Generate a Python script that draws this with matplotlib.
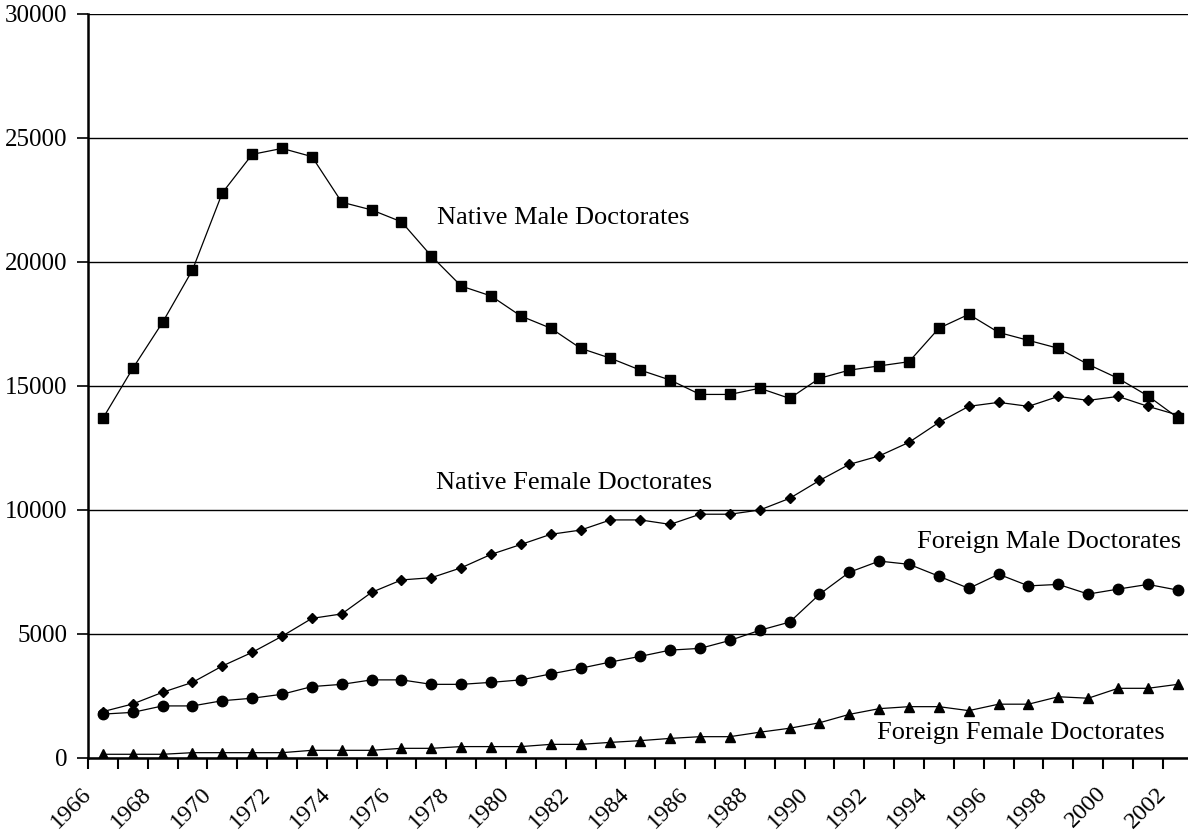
import numpy as np
import matplotlib
matplotlib.use('Agg')
import matplotlib.pyplot as plt
import matplotlib.transforms as mtransforms

plt.rcParams['font.family'] = ['Liberation Serif', 'DejaVu Serif']

years = list(range(1966, 2003))

native_male = [13700, 15710, 17570, 19680, 22790, 24340, 24580, 24250, 22410, 22100,
               21620, 20240, 19030, 18630, 17820, 17330, 16520, 16120, 15640, 15240,
               14660, 14660, 14910, 14500, 15310, 15640, 15810, 15980, 17330, 17890,
               17160, 16840, 16520, 15870, 15310, 14600, 13720]
native_female = [1870, 2180, 2650, 3050, 3710, 4260, 4910, 5630, 5810, 6680,
                 7180, 7270, 7670, 8210, 8610, 9020, 9190, 9600, 9600, 9420,
                 9830, 9830, 10000, 10470, 11190, 11840, 12180, 12730, 13530, 14180,
                 14340, 14180, 14580, 14420, 14580, 14180, 13830]
foreign_male = [1770, 1840, 2100, 2100, 2310, 2410, 2570, 2880, 2970, 3150,
                3150, 2970, 2970, 3050, 3150, 3390, 3620, 3870, 4100, 4350,
                4420, 4740, 5150, 5480, 6600, 7490, 7940, 7810, 7330, 6840,
                7410, 6940, 7000, 6610, 6810, 7000, 6770]
foreign_female = [150, 150, 150, 215, 215, 215, 215, 310, 310, 310,
                  390, 390, 460, 460, 460, 550, 550, 630, 700, 790,
                  860, 860, 1040, 1200, 1420, 1760, 1990, 2070, 2070, 1910,
                  2170, 2170, 2470, 2410, 2810, 2810, 2970]

series = [
    (native_male, 's', 7.5),
    (native_female, 'D', 5.5),
    (foreign_male, 'o', 7.5),
    (foreign_female, '^', 7.5),
]
labels = ['Native Male Doctorates', 'Native Female Doctorates',
          'Foreign Male Doctorates', 'Foreign Female Doctorates']
label_pos = [(11.19, 21770), (11.17, 11080), (27.25, 8720), (25.92, 1000)]

fig = plt.figure(figsize=(11.88, 8.4), dpi=100)
ax = fig.add_axes([88/1188, 82/840, (1192.7-88)/1188, 744/840])

x = np.arange(len(years))
for vals, m, ms in series:
    ax.plot(x, vals, color='black', lw=0.9, marker=m, ms=ms,
            mfc='black', mec='black', zorder=3)

for txt, (tx, ty) in zip(labels, label_pos):
    ax.text(tx, ty, txt, fontsize=19, ha='left', va='center')

ax.set_yticks(np.arange(0, 30001, 5000))
ax.yaxis.grid(True, color='black', lw=1.0)
ax.set_axisbelow(True)

# tick marks between categories, year labels every other year
ax.set_xticks(np.arange(-0.5, len(years), 1.0))
ax.set_xticklabels([])
shift = mtransforms.ScaledTranslation(-0.22, -0.25, fig.dpi_scale_trans)
for xi, yr in zip(x[::2], years[::2]):
    ax.text(xi, 0, str(yr), transform=ax.get_xaxis_transform() + shift,
            rotation=45, ha='right', va='top', rotation_mode='anchor',
            fontsize=17.5, clip_on=False)
ax.tick_params(axis='x', which='major', direction='out', length=8, width=1.5)
ax.tick_params(axis='y', direction='out', length=8, width=1.2, labelsize=18, pad=7)

ax.set_xlim(-0.5, len(years) - 0.5)
ax.set_ylim(0, 30000)

for s in ['top', 'right']:
    ax.spines[s].set_visible(False)
ax.spines['left'].set_linewidth(1.8)
ax.spines['bottom'].set_linewidth(1.8)

fig.savefig('out.png', dpi=100)
